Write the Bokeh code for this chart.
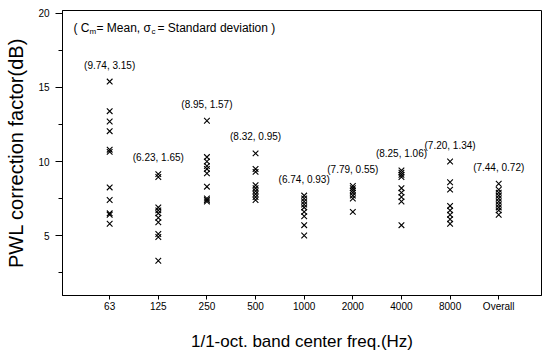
from bokeh.plotting import figure
from bokeh.models import ColumnDataSource, FixedTicker, Label, LabelSet, Range1d
from bokeh.core.properties import value
from bokeh.embed import file_html
from bokeh.resources import INLINE

categories = ["63", "125", "250", "500", "1000", "2000", "4000", "8000", "Overall"]

vals_63 = [15.4, 13.4, 12.7, 12.05, 10.8, 10.65, 8.25, 7.4, 6.5, 6.4, 5.8]
vals_125 = [9.15, 8.95, 6.9, 6.7, 6.5, 6.2, 5.9, 5.1, 4.9, 3.3]
vals_250 = [12.75, 10.3, 10.0, 9.7, 9.5, 9.2, 8.3, 7.5, 7.4, 7.3]
vals_500 = [10.55, 9.5, 9.3, 8.4, 8.2, 8.0, 7.8, 7.6, 7.4]
vals_1000 = [7.7, 7.5, 7.3, 7.1, 6.9, 6.6, 6.3, 5.7, 5.0]
vals_2000 = [8.35, 8.2, 8.05, 7.9, 7.7, 7.5, 6.6]
vals_4000 = [9.4, 9.25, 9.1, 8.95, 8.2, 7.9, 7.6, 7.3, 5.7]
vals_8000 = [10.0, 8.6, 8.1, 7.0, 6.7, 6.4, 6.1, 5.8]
vals_overall = [8.5, 8.1, 7.9, 7.7, 7.5, 7.3, 7.1, 6.9, 6.7, 6.4]

means = [9.74, 6.23, 8.95, 8.32, 6.74, 7.79, 8.25, 7.20, 7.44]
stds = [3.15, 1.65, 1.57, 0.95, 0.93, 0.55, 1.06, 1.34, 0.72]

groups = [vals_63, vals_125, vals_250, vals_500, vals_1000, vals_2000,
          vals_4000, vals_8000, vals_overall]

xs, ys = [], []
for i, g in enumerate(groups):
    xs += [i + 1] * len(g)
    ys += g
pts = ColumnDataSource(dict(x=xs, y=ys))

lab = ColumnDataSource(dict(
    x=list(range(1, len(categories) + 1)),
    y=[max(g) for g in groups],
    text=[f"({m:.2f}, {s:.2f})" for m, s in zip(means, stds)],
))

p = figure(width=543, height=355, output_backend="svg", toolbar_location=None,
           x_range=Range1d(0.03, 9.88), y_range=Range1d(0.95, 20.2),
           min_border_left=62, min_border_right=2, min_border_top=10,
           min_border_bottom=60)
p.background_fill_color = "white"
p.border_fill_color = "white"
p.outline_line_color = "black"
p.outline_line_width = 1
p.xgrid.visible = False
p.ygrid.visible = False

p.scatter("x", "y", source=pts, marker="x", size=8, line_color="black",
          line_width=1.1)

p.add_layout(LabelSet(x="x", y="y", text="text", source=lab, y_offset=11,
                      text_align="center", text_baseline="bottom",
                      text_font=value("Liberation Sans"), text_font_size="10px",
                      text_color="black"))

# axes
p.xaxis.ticker = FixedTicker(ticks=list(range(1, len(categories) + 1)))
p.xaxis.major_label_overrides = {i + 1: c for i, c in enumerate(categories)}
p.xaxis.major_tick_in = 0
p.xaxis.major_tick_out = 4
p.xaxis.major_label_standoff = 1
p.xaxis.axis_label = "1/1-oct. band center freq.(Hz)"
p.xaxis.axis_label_standoff = 17

p.yaxis.ticker = FixedTicker(ticks=[5, 10, 15, 20], minor_ticks=[2.5, 7.5, 12.5, 17.5])
p.yaxis.major_tick_in = 0
p.yaxis.major_tick_out = 7
p.yaxis.minor_tick_in = 0
p.yaxis.minor_tick_out = 4
p.yaxis.major_label_standoff = 6
p.yaxis.axis_label = "PWL correction factor(dB)"
p.yaxis.axis_label_standoff = 8

for ax in (p.xaxis, p.yaxis):
    ax.axis_line_color = "black"
    ax.major_tick_line_color = "black"
    ax.minor_tick_line_color = "black"
    ax.major_label_text_color = "black"
    ax.major_label_text_font = "Liberation Sans"
    ax.major_label_text_font_size = "10px"
    ax.axis_label_text_font = "Liberation Sans"
    ax.axis_label_text_font_style = "normal"
    ax.axis_label_text_color = "black"
p.xaxis.minor_tick_line_color = None
p.xaxis.axis_label_text_font_size = "17px"
p.yaxis.axis_label_text_font_size = "20px"

# note at top-left (pieces for subscripts); screen x is relative to the frame
pieces = [
    ("( C", 11, 0, "12px"),
    ("m", 27, -4, "8px"),
    ("= Mean,  \u03c3", 34, 0, "12px"),
    ("c", 89, -4, "8px"),
    ("= Standard deviation )", 95, 0, "12px"),
]
for t, sx, dy, fs in pieces:
    p.add_layout(Label(x=sx, y=268 + dy, x_units="screen",
                       y_units="screen", text=t, text_font="Liberation Sans",
                       text_font_size=fs, text_baseline="middle",
                       text_color="black"))

open("out.html", "w").write(file_html(p, INLINE))
